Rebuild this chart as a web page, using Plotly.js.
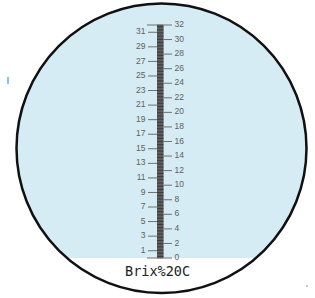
<!DOCTYPE html>
<html><head><meta charset="utf-8">
<script src="https://cdn.plot.ly/plotly-3.0.1.min.js"></script>
<style>html,body{margin:0;padding:0;background:#fff}#chart{width:315px;height:298px}</style>
</head><body><div id="chart"></div>
<script>
// Scale data (Brix %, 20°C)
const evenMarks = [0,2,4,6,8,10,12,14,16,18,20,22,24,26,28,30,32];
const oddMarks = [1,3,5,7,9,11,13,15,17,19,21,23,25,27,29,31];
const evenLabels = evenMarks.map(String);
const oddLabels = oddMarks.map(String);
const minorStep = 0.2;
const scaleMin = 0, scaleMax = 32;
const unitTitle = "Brix%20C";

// geometry (x in pixel-like units, y in Brix)
const pxPerUnit = 233/32;
const yTop = 32 + 25/pxPerUnit, yBot = -(40/pxPerUnit);
const barL = 157, barR = 163.5;

const minorX = [], minorY = [];
for (let v = scaleMin; v <= scaleMax + 1e-9; v += minorStep) {
  const y = Math.round(v*10)/10;
  minorX.push(barL, barR, null); minorY.push(y, y, null);
}
const rightX = [], rightY = [];
evenMarks.forEach(v => { rightX.push(barR, 172, null); rightY.push(v, v, null); });
const leftX = [], leftY = [];
oddMarks.forEach(v => { leftX.push(148, barL, null); leftY.push(v, v, null); });
const endX = [147, barL, null, 147, barL, null], endY = [scaleMax, scaleMax, null, scaleMin, scaleMin, null];

const labelFont = {family:'Liberation Sans, Arial', size:8.5, color:'#5e5e5e'};
const traces = [
  {x:[barL,barR,barR,barL,barL], y:[scaleMin,scaleMin,scaleMax,scaleMax,scaleMin], mode:'lines', fill:'toself', fillcolor:'#858585', line:{width:0}, hoverinfo:'skip'},
  {x:minorX, y:minorY, mode:'lines', line:{color:'#3a3a3a', width:1}, hoverinfo:'skip'},
  {x:rightX, y:rightY, mode:'lines', line:{color:'#707070', width:1}, hoverinfo:'skip'},
  {x:leftX, y:leftY, mode:'lines', line:{color:'#707070', width:1}, hoverinfo:'skip'},
  {x:endX, y:endY, mode:'lines', line:{color:'#707070', width:1}, hoverinfo:'skip'},
  {x:evenMarks.map(()=>174.5), y:evenMarks, text:evenLabels, mode:'text', textposition:'middle right', textfont:labelFont, hoverinfo:'skip'},
  {x:oddMarks.map(()=>145.5), y:oddMarks, text:oddLabels, mode:'text', textposition:'middle left', textfont:labelFont, hoverinfo:'skip'}
];

const circ = {x0:16.5, x1:306.5, y0:yTop - 3.5/pxPerUnit, y1:yTop - 293/pxPerUnit};
const layout = {
  width:315, height:298, margin:{l:0,r:0,t:0,b:0},
  paper_bgcolor:'#fff', plot_bgcolor:'#fff', showlegend:false,
  xaxis:{range:[0,315], visible:false, fixedrange:true},
  yaxis:{range:[yBot,yTop], visible:false, fixedrange:true},
  shapes:[
    {type:'circle', layer:'below', xref:'x', yref:'y', x0:circ.x0, x1:circ.x1, y0:circ.y1, y1:circ.y0, fillcolor:'#d5ecf4', line:{width:0}},
    {type:'rect', layer:'below', xref:'x', yref:'y', x0:0, x1:315, y0:yBot, y1:scaleMin, fillcolor:'#ffffff', line:{width:0}},
    {type:'circle', layer:'above', xref:'x', yref:'y', x0:circ.x0, x1:circ.x1, y0:circ.y1, y1:circ.y0, line:{color:'#111', width:2.5}},
    {type:'line', xref:'x', yref:'y', x0:8, x1:8, y0:yTop-77/pxPerUnit, y1:yTop-84/pxPerUnit, line:{color:'#5aaee6', width:1.5}},
    {type:'rect', xref:'x', yref:'y', x0:306.5, x1:307.5, y0:yTop-285/pxPerUnit, y1:yTop-287/pxPerUnit, fillcolor:'#999', line:{width:0}}
  ],
  annotations:[
    {xref:'x', yref:'y', x:157.5, y:yTop-270.5/pxPerUnit, text:unitTitle, showarrow:false, xanchor:'center', yanchor:'middle', font:{family:'DejaVu Sans Mono, monospace', size:13.5, color:'#222'}}
  ]
};
Plotly.newPlot('chart', traces, layout, {staticPlot:true, displayModeBar:false});
</script></body></html>
